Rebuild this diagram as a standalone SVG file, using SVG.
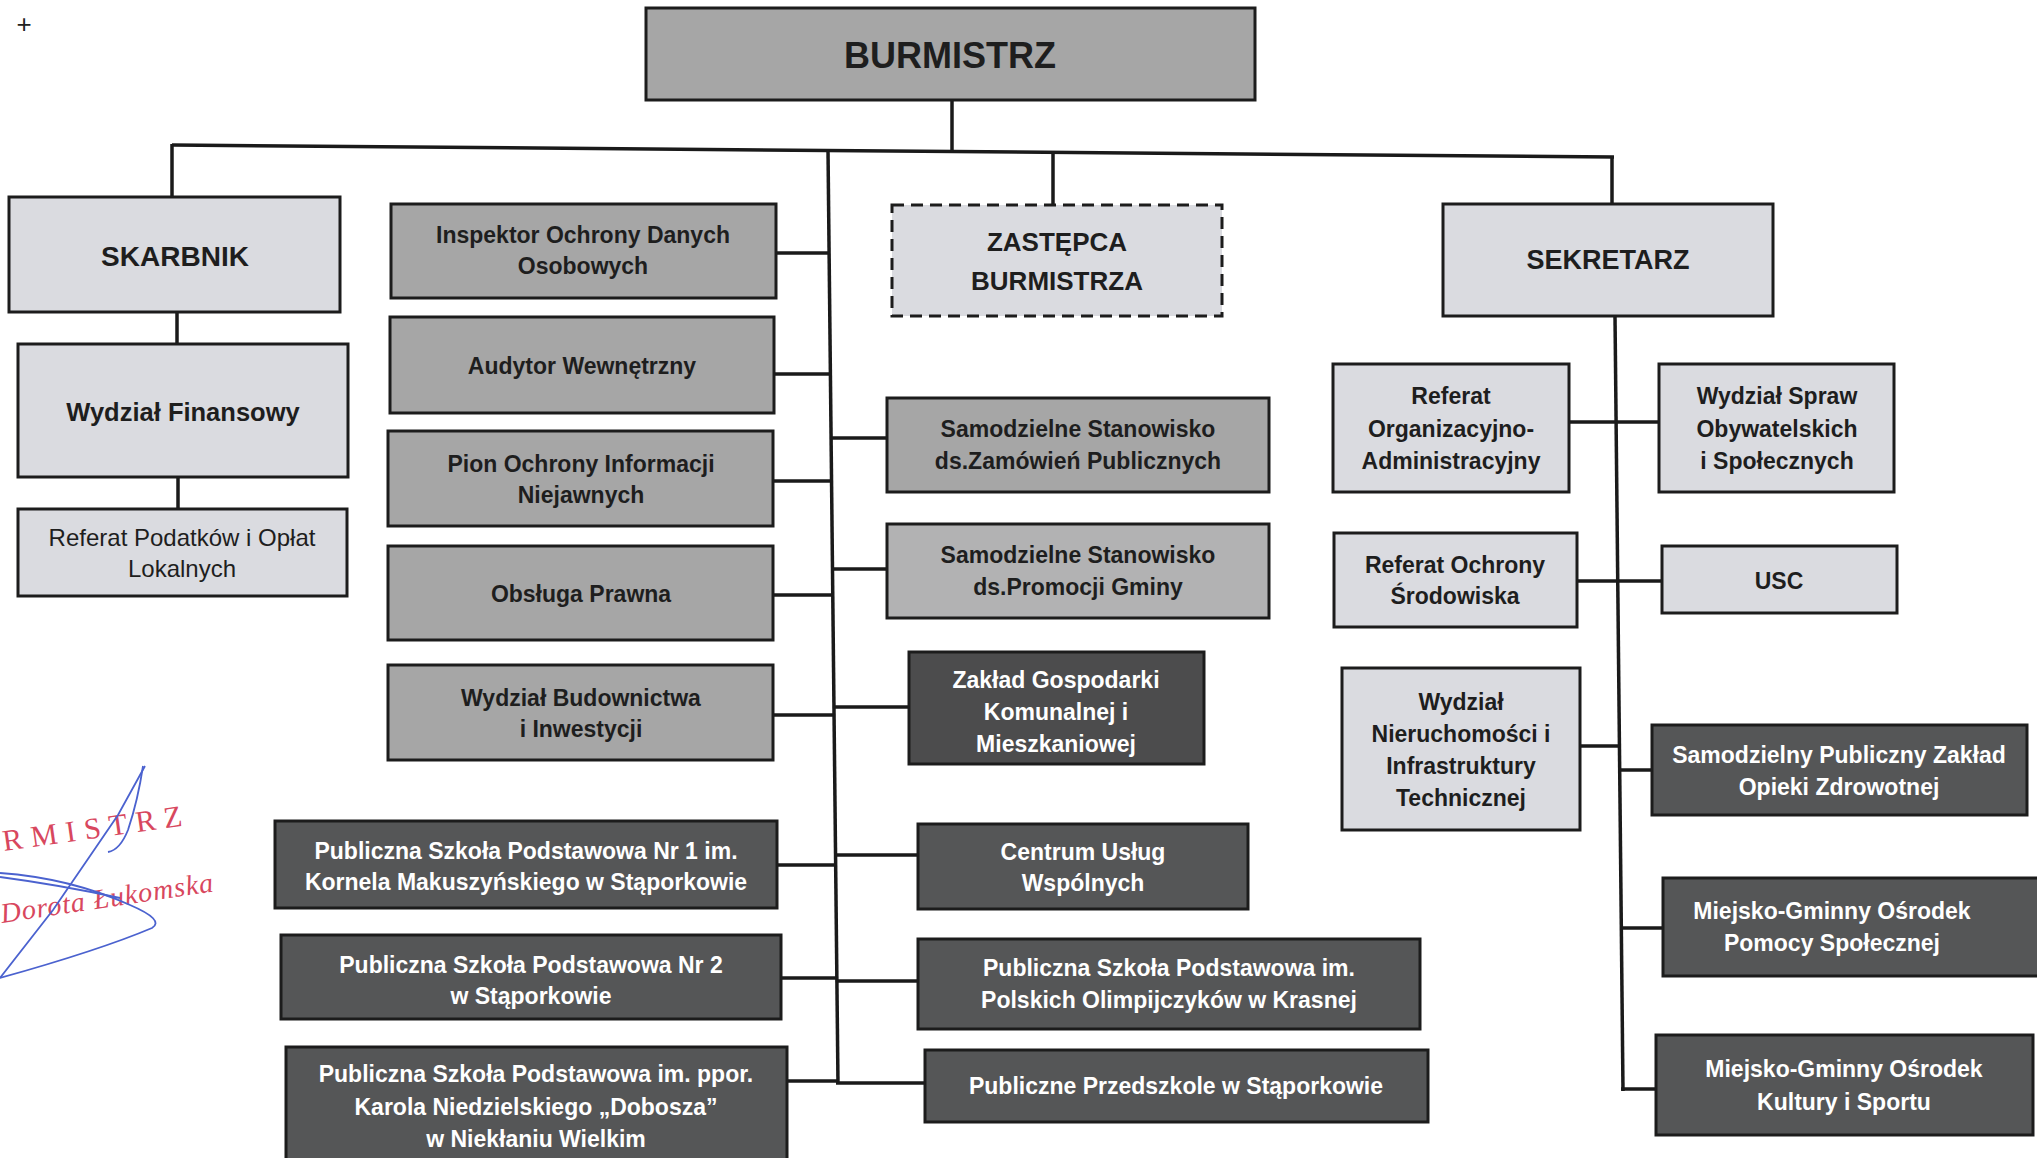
<svg xmlns="http://www.w3.org/2000/svg" width="2037" height="1158" viewBox="0 0 2037 1158">
<style>
.box{stroke:#1c1c1c;stroke-width:3}
.light{fill:#dadbe0}
.mid{fill:#a6a6a6}
.mid2{fill:#b2b2b3}
.dark{fill:#555657}
.dash{stroke-dasharray:12 7}
text{font-family:"Liberation Sans",Arial,sans-serif;text-anchor:middle}
.t{font-size:23px;font-weight:bold;fill:#1e1e1e}
.w{font-size:23px;font-weight:bold;fill:#ffffff}
.r{font-size:24px;fill:#1e1e1e}
.big{font-weight:bold;fill:#1e1e1e}
.conn line,.conn polyline{stroke:#1a1a1a;stroke-width:3.5;fill:none}
.stamp{font-family:"Liberation Serif","Times New Roman",serif;fill:#d8475e;text-anchor:start}
.sig{stroke:#4b62cf;stroke-width:1.8;fill:none}
</style>

<text x="24" y="33" style="font-size:26px;fill:#222">+</text>

<g class="conn" id="connectors">
  <line x1="172" y1="145" x2="1614" y2="157"/>
  <line x1="952" y1="100" x2="952" y2="152"/>
  <line x1="172" y1="144" x2="172" y2="198"/>
  <line x1="1053" y1="152" x2="1053" y2="205"/>
  <line x1="1612" y1="156" x2="1612" y2="204"/>
  <line x1="177" y1="312" x2="177" y2="344"/>
  <line x1="178" y1="477" x2="178" y2="509"/>
  <line x1="828" y1="150" x2="838" y2="1084"/>
  <line x1="776" y1="253" x2="830" y2="253"/>
  <line x1="774" y1="374" x2="831" y2="374"/>
  <line x1="773" y1="481" x2="832" y2="481"/>
  <line x1="773" y1="595" x2="833" y2="595"/>
  <line x1="773" y1="715" x2="834" y2="715"/>
  <line x1="777" y1="865" x2="836" y2="865"/>
  <line x1="781" y1="978" x2="837" y2="978"/>
  <line x1="787" y1="1081" x2="838" y2="1081"/>
  <line x1="831" y1="438" x2="887" y2="438"/>
  <line x1="833" y1="569" x2="887" y2="569"/>
  <line x1="834" y1="707" x2="909" y2="707"/>
  <line x1="836" y1="855" x2="918" y2="855"/>
  <line x1="837" y1="981" x2="918" y2="981"/>
  <line x1="836" y1="1083" x2="925" y2="1083"/>
  <line x1="1615" y1="316" x2="1623" y2="1091"/>
  <line x1="1569" y1="422" x2="1659" y2="422"/>
  <line x1="1577" y1="581" x2="1662" y2="581"/>
  <line x1="1580" y1="746" x2="1620" y2="746"/>
  <line x1="1620" y1="770" x2="1652" y2="770"/>
  <line x1="1621" y1="928" x2="1663" y2="928"/>
  <line x1="1621" y1="1089" x2="1656" y2="1089"/>
</g>

<g id="burmistrz"><rect class="box mid" x="646" y="8" width="609" height="92"/><text class="big" x="950" y="68" style="font-size:36px">BURMISTRZ</text></g>

<g id="skarbnik"><rect class="box light" x="9" y="197" width="331" height="115"/><text class="big" x="175" y="266" style="font-size:28px">SKARBNIK</text></g>
<g id="wydzial-finansowy"><rect class="box light" x="18" y="344" width="330" height="133"/><text class="big" x="183" y="421" style="font-size:25.5px">Wydział Finansowy</text></g>
<g id="referat-podatkow"><rect class="box light" x="18" y="509" width="329" height="87"/><text class="r" x="182" y="546">Referat Podatków i Opłat</text><text class="r" x="182" y="577">Lokalnych</text></g>

<g id="iodo"><rect class="box mid" x="391" y="204" width="385" height="94"/><text class="t" x="583" y="243">Inspektor Ochrony Danych</text><text class="t" x="583" y="274">Osobowych</text></g>
<g id="audytor"><rect class="box mid" x="390" y="317" width="384" height="96"/><text class="t" x="582" y="374">Audytor Wewnętrzny</text></g>
<g id="pion"><rect class="box mid" x="388" y="431" width="385" height="95"/><text class="t" x="581" y="472">Pion Ochrony Informacji</text><text class="t" x="581" y="503">Niejawnych</text></g>
<g id="obsluga-prawna"><rect class="box mid" x="388" y="546" width="385" height="94"/><text class="t" x="581" y="602">Obsługa Prawna</text></g>
<g id="wydzial-budownictwa"><rect class="box mid" x="388" y="665" width="385" height="95"/><text class="t" x="581" y="706">Wydział Budownictwa</text><text class="t" x="581" y="737">i Inwestycji</text></g>

<g id="psp1"><rect class="box dark" x="275" y="821" width="502" height="87"/><text class="w" x="526" y="859">Publiczna Szkoła Podstawowa Nr 1 im.</text><text class="w" x="526" y="890">Kornela Makuszyńskiego w Stąporkowie</text></g>
<g id="psp2"><rect class="box dark" x="281" y="935" width="500" height="84"/><text class="w" x="531" y="973">Publiczna Szkoła Podstawowa Nr 2</text><text class="w" x="531" y="1004">w Stąporkowie</text></g>
<g id="psp-nieklan"><rect class="box dark" x="286" y="1047" width="501" height="115"/><text class="w" x="536" y="1082">Publiczna Szkoła Podstawowa im. ppor.</text><text class="w" x="536" y="1115">Karola Niedzielskiego „Dobosza”</text><text class="w" x="536" y="1147">w Niekłaniu Wielkim</text></g>

<g id="zastepca"><rect class="box light dash" x="892" y="205" width="330" height="111"/><text class="big" x="1057" y="251" style="font-size:26px">ZASTĘPCA</text><text class="big" x="1057" y="290" style="font-size:26px">BURMISTRZA</text></g>
<g id="ss-zamowien"><rect class="box mid" x="887" y="398" width="382" height="94"/><text class="t" x="1078" y="437">Samodzielne Stanowisko</text><text class="t" x="1078" y="469">ds.Zamówień Publicznych</text></g>
<g id="ss-promocji"><rect class="box mid2" x="887" y="524" width="382" height="94"/><text class="t" x="1078" y="563">Samodzielne Stanowisko</text><text class="t" x="1078" y="595">ds.Promocji Gminy</text></g>
<g id="zgkim"><rect class="box dark" x="909" y="652" width="295" height="112" style="fill:#4c4c4d"/><text class="w" x="1056" y="688">Zakład Gospodarki</text><text class="w" x="1056" y="720">Komunalnej i</text><text class="w" x="1056" y="752">Mieszkaniowej</text></g>
<g id="cuw"><rect class="box dark" x="918" y="824" width="330" height="85"/><text class="w" x="1083" y="860">Centrum Usług</text><text class="w" x="1083" y="891">Wspólnych</text></g>
<g id="psp-krasna"><rect class="box dark" x="918" y="939" width="502" height="90"/><text class="w" x="1169" y="976">Publiczna Szkoła Podstawowa im.</text><text class="w" x="1169" y="1008">Polskich Olimpijczyków w Krasnej</text></g>
<g id="przedszkole"><rect class="box dark" x="925" y="1050" width="503" height="72"/><text class="w" x="1176" y="1094">Publiczne Przedszkole w Stąporkowie</text></g>

<g id="sekretarz"><rect class="box light" x="1443" y="204" width="330" height="112"/><text class="big" x="1608" y="269" style="font-size:27px">SEKRETARZ</text></g>
<g id="referat-org"><rect class="box light" x="1333" y="364" width="236" height="128"/><text class="t" x="1451" y="404">Referat</text><text class="t" x="1451" y="437">Organizacyjno-</text><text class="t" x="1451" y="469">Administracyjny</text></g>
<g id="wydzial-spraw"><rect class="box light" x="1659" y="364" width="235" height="128"/><text class="t" x="1777" y="404">Wydział Spraw</text><text class="t" x="1777" y="437">Obywatelskich</text><text class="t" x="1777" y="469">i Społecznych</text></g>
<g id="referat-ochrony"><rect class="box light" x="1334" y="533" width="243" height="94"/><text class="t" x="1455" y="573">Referat Ochrony</text><text class="t" x="1455" y="604">Środowiska</text></g>
<g id="usc"><rect class="box light" x="1662" y="546" width="235" height="67"/><text class="t" x="1779" y="589">USC</text></g>
<g id="wydzial-nieruchomosci"><rect class="box light" x="1342" y="668" width="238" height="162"/><text class="t" x="1461" y="710">Wydział</text><text class="t" x="1461" y="742">Nieruchomości i</text><text class="t" x="1461" y="774">Infrastruktury</text><text class="t" x="1461" y="806">Technicznej</text></g>
<g id="spzoz"><rect class="box dark" x="1652" y="725" width="375" height="90"/><text class="w" x="1839" y="763">Samodzielny Publiczny Zakład</text><text class="w" x="1839" y="795">Opieki Zdrowotnej</text></g>
<g id="mgops"><rect class="box dark" x="1663" y="878" width="380" height="98"/><text class="w" x="1832" y="919">Miejsko-Gminny Ośrodek</text><text class="w" x="1832" y="951">Pomocy Społecznej</text></g>
<g id="mgokis"><rect class="box dark" x="1656" y="1035" width="377" height="100"/><text class="w" x="1844" y="1077">Miejsko-Gminny Ośrodek</text><text class="w" x="1844" y="1110">Kultury i Sportu</text></g>

<g id="stamp">
  <text class="stamp" x="4" y="851" transform="rotate(-8 4 851)" style="font-size:30px;letter-spacing:8.5px">RMISTRZ</text>
  <text class="stamp" x="2" y="923" transform="rotate(-8.5 2 923)" style="font-size:28px;font-style:italic;letter-spacing:1px">Dorota Łukomska</text>
  <path class="sig" d="M145 766 L118 815 L90 856 L53 910 L0 978"/>
  <path class="sig" d="M143 766 Q138 800 128 830 Q120 850 108 852"/>
  <path class="sig" d="M0 873 Q70 878 130 905 Q165 920 152 928 Q100 950 0 978"/>
  <path class="sig" d="M0 877 Q60 885 120 898"/>
</g>
</svg>
